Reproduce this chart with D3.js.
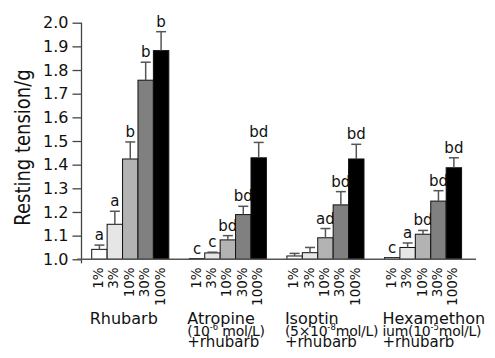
<!DOCTYPE html>
<html>
<head>
<meta charset="utf-8">
<script src="https://cdn.jsdelivr.net/npm/d3@7"></script>
<style>
  body { margin: 0; background: #fff; }
  text { font-family: "DejaVu Sans", Verdana, sans-serif; fill: #111; }
</style>
</head>
<body>
<div id="chart"></div>
<script>
// Gruppen und Konzentrationen
const groups = ["Rhubarb", "Atropine", "Isoptin", "Hexamethonium"]
const concs = ["1%", "3%", "10%", "30%", "100%"]

// Mittelwerte (Resting tension / g)
const rhubarbMean  = [1.042, 1.148, 1.424, 1.757, 1.882]
const atropineMean = [1.003, 1.027, 1.082, 1.189, 1.429]
const isoptinMean  = [1.014, 1.028, 1.091, 1.230, 1.424]
const hexaMean     = [1.007, 1.050, 1.106, 1.246, 1.387]

// Fehlerbalken (SE)
const rhubarbSE  = [0.018, 0.055, 0.072, 0.076, 0.080]
const atropineSE = [0.000, 0.003, 0.018, 0.035, 0.065]
const isoptinSE  = [0.011, 0.022, 0.039, 0.056, 0.062]
const hexaSE     = [0.000, 0.019, 0.016, 0.044, 0.042]

// Signifikanz-Buchstaben
const rhubarbSig  = ["a", "a", "b", "b", "b"]
const atropineSig = ["c", "c", "bd", "bd", "bd"]
const isoptinSig  = ["", "", "ad", "bd", "bd"]
const hexaSig     = ["c", "a", "bd", "bd", "bd"]

const yTicks = [1.0, 1.1, 1.2, 1.3, 1.4, 1.5, 1.6, 1.7, 1.8, 1.9, 2.0]

// Gruppen-Beschriftung: Zeilen, [x] = hochgestellt
const groupLabels = [
  [["Rhubarb"]],
  [["Atropine"], ["(10", ["-6"], " mol/L)"], ["+rhubarb"]],
  [["Isoptin"], ["(5×10", ["-8"], "mol/L)"], ["+rhubarb"]],
  [["Hexamethon"], ["ium(10", ["-5"], "mol/L)"], ["+rhubarb"]]
]

const means = [rhubarbMean, atropineMean, isoptinMean, hexaMean]
const ses = [rhubarbSE, atropineSE, isoptinSE, hexaSE]
const sigs = [rhubarbSig, atropineSig, isoptinSig, hexaSig]

const fills = ["#ffffff", "#e6e6e6", "#b3b3b3", "#808080", "#000000"]

const width = 495
const height = 358
const baseY = 259.3
const axisX = 81.5

const svg = d3.select("#chart")
  .append("svg")
  .attr("width", width)
  .attr("height", height)

const y = d3.scaleLinear().domain([1, 2]).range([baseY, 22.7])

const x0 = d3.scaleBand()
  .domain(groups)
  .range([80, 473.3])
  .paddingInner(0.21)
  .paddingOuter(0.12)

const x1 = d3.scaleBand()
  .domain(concs)
  .range([0, x0.bandwidth()])

// flache Datenliste
const data = []
groups.forEach((g, gi) => {
  concs.forEach((c, ci) => {
    data.push({ group: g, conc: c, ci: ci, mean: means[gi][ci], se: ses[gi][ci], sig: sigs[gi][ci] })
  })
})

// Y-Achse
const yAxis = d3.axisLeft(y)
  .tickValues(yTicks)
  .tickFormat(d3.format(".1f"))
  .tickSize(9)
  .tickSizeOuter(0)
  .tickPadding(4)

const ag = svg.append("g")
  .attr("transform", "translate(" + axisX + ",0)")
  .call(yAxis)
ag.select(".domain").remove()
ag.selectAll("line").attr("stroke", "#444").attr("stroke-width", 1.3)
ag.selectAll("text")
  .style("font-size", "16px")
  .style("font-family", "DejaVu Sans, Verdana, sans-serif")
  .attr("fill", "#111")

svg.append("line")
  .attr("x1", axisX).attr("x2", axisX)
  .attr("y1", y(2)).attr("y2", baseY + 4)
  .attr("stroke", "#444").attr("stroke-width", 1.3)

// Balken
const bars = svg.append("g")
  .selectAll("g")
  .data(data)
  .enter()
  .append("g")
  .attr("transform", d => "translate(" + (x0(d.group) + x1(d.conc)) + ",0)")

bars.append("rect")
  .attr("x", 0)
  .attr("y", d => y(d.mean))
  .attr("width", x1.bandwidth())
  .attr("height", d => baseY - y(d.mean))
  .attr("fill", d => fills[d.ci])
  .attr("stroke", "#111")
  .attr("stroke-width", 1)

// Fehlerbalken
const eb = bars.filter(d => d.se > 0)
eb.append("line")
  .attr("x1", x1.bandwidth() / 2).attr("x2", x1.bandwidth() / 2)
  .attr("y1", d => y(d.mean)).attr("y2", d => y(d.mean + d.se))
  .attr("stroke", "#555").attr("stroke-width", 1.5)
eb.append("line")
  .attr("x1", x1.bandwidth() / 2 - 5).attr("x2", x1.bandwidth() / 2 + 5)
  .attr("y1", d => y(d.mean + d.se)).attr("y2", d => y(d.mean + d.se))
  .attr("stroke", "#555").attr("stroke-width", 1.5)

// Buchstaben
bars.append("text")
  .attr("x", x1.bandwidth() / 2)
  .attr("y", d => y(d.mean + d.se) - 5)
  .attr("text-anchor", "middle")
  .style("font-size", "15px")
  .text(d => d.sig)

// X-Grundlinie
svg.append("line")
  .attr("x1", 77).attr("x2", 476)
  .attr("y1", baseY).attr("y2", baseY)
  .attr("stroke", "#555").attr("stroke-width", 1.5)

// Konzentrations-Beschriftung (gedreht)
bars.append("text")
  .attr("transform", d => "translate(" + (x1.bandwidth() / 2 + 3.5) + "," + (baseY + 8) + ") rotate(-90) scale(1,1.1)")
  .attr("text-anchor", "end")
  .style("font-size", "13.5px")
  .text(d => d.conc)

// Gruppen-Beschriftung
groups.forEach((g, gi) => {
  const lx = x0(g) - 2
  const t = svg.append("text")
  groupLabels[gi].forEach((ln, li) => {
    ln.forEach((part, pi) => {
      const ts = t.append("tspan")
      if (pi == 0) {
        ts.attr("x", lx).attr("y", 324 + li * 11.5)
      }
      if (Array.isArray(part)) {
        ts.attr("dy", -6).style("font-size", "8.5px").text(part[0])
      } else {
        if (pi > 0) ts.attr("dy", 6)
        ts.style("font-size", li == 0 ? "16px" : (li == 1 ? "14px" : "15px"))
          .style("letter-spacing", li == 1 ? "-0.3px" : null)
          .text(part)
      }
    })
  })
})

// Y-Titel
svg.append("text")
  .attr("transform", "translate(30,147.5) rotate(-90) scale(1,1.15)")
  .attr("text-anchor", "middle")
  .style("font-size", "18px")
  .text("Resting tension/g")
</script>
</body>
</html>
